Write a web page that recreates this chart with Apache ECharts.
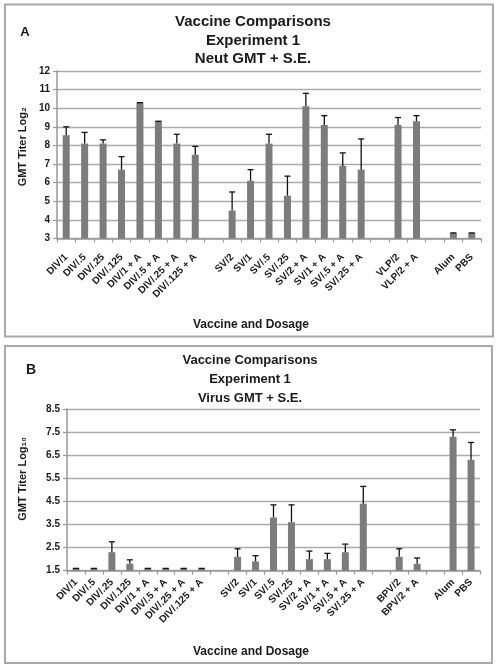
<!DOCTYPE html>
<html>
<head>
<meta charset="utf-8">
<script src="https://cdn.jsdelivr.net/npm/echarts@6/dist/echarts.min.js"></script>
<style>html,body{margin:0;padding:0;background:#fff}#c{width:498px;height:670px}</style>
</head>
<body>
<div id="c"></div>
<script>
// ---- Panel A data (Neut GMT, log2) ----
const catsA = ['DIV/1','DIV/.5','DIV/.25','DIV/.125','DIV/1 + A','DIV/.5 + A','DIV/.25 + A','DIV/.125 + A','',
  'SV/2','SV/1','SV/.5','SV/.25','SV/2 + A','SV/1 + A','SV/.5 + A','SV/.25 + A',' ',
  'VLP/2','VLP/2 + A','  ','Alum','PBS'];
const gmtA   = [8.55,8.1,8.1,6.7,10.3,9.3,8.1,7.5,null, 4.5,6.1,8.1,5.3,10.1,9.1,6.9,6.7,null, 9.1,9.3,null, 3.3,3.3];
const upperA = [9.0,8.7,8.3,7.4,10.3,9.3,8.6,7.95,null, 5.5,6.7,8.6,6.35,10.8,9.6,7.6,8.35,null, 9.5,9.6,null, 3.3,3.3];
const yTicksA = {min: 3, max: 12, interval: 1};

// ---- Panel B data (Virus GMT, log10) ----
const catsB = ['DIV/1','DIV/.5','DIV/.25','DIV/.125','DIV/1 + A','DIV/.5 + A','DIV/.25 + A','DIV/.125 + A','',
  'SV/2','SV/1','SV/.5','SV/.25','SV/2 + A','SV/1 + A','SV/.5 + A','SV/.25 + A',' ',
  'BPV/2','BPV/2 + A','  ','Alum','PBS'];
const gmtB   = [1.6,1.6,2.3,1.8,1.6,1.6,1.6,1.6,null, 2.1,1.9,3.8,3.6,2.0,2.0,2.3,4.4,null, 2.1,1.8,null, 7.3,6.3];
const upperB = [1.6,1.6,2.75,1.97,1.6,1.6,1.6,1.6,null, 2.45,2.15,4.35,4.35,2.35,2.25,2.65,5.15,null, 2.45,2.05,null, 7.6,7.05];
const yTicksB = {min: 1.5, max: 8.5, interval: 1};

const FF = '"Liberation Sans", Arial, sans-serif';
const TXT = '#1a1a1a';
const BAR = '#7c7c7c';
const GRIDC = '#acacac';
const AXC = '#999999';

function errData(vals, ups) {
  const out = [];
  vals.forEach((v, i) => { if (v != null) out.push([i, ups[i], v]); });
  return out;
}
function errRender(params, api) {
  const x = api.value(0);
  const top = api.coord([x, api.value(1)]);
  const bot = api.coord([x, api.value(2)]);
  const st = {stroke: '#111', lineWidth: 1.3};
  return {type: 'group', children: [
    {type: 'line', shape: {x1: top[0], y1: top[1], x2: bot[0], y2: bot[1]}, style: st},
    {type: 'line', shape: {x1: top[0] - 3, y1: top[1], x2: top[0] + 3, y2: top[1]}, style: st}
  ]};
}
function xAxisCfg(cats, gridIndex, padRight, gap, margin) {
  return {
    type: 'category', gridIndex, data: cats,
    name: 'Vaccine and Dosage', nameLocation: 'middle', nameGap: gap,
    nameTextStyle: {fontFamily: FF, fontWeight: 'bold', fontSize: 12, color: TXT, padding: [0, padRight, 0, 0]},
    axisLine: {lineStyle: {color: AXC, width: 1.5}},
    axisTick: {show: true, alignWithLabel: false, length: 4, lineStyle: {color: AXC, width: 1.2}},
    axisLabel: {interval: 0, rotate: 45, fontFamily: FF, fontWeight: 'bold', fontSize: 10, color: TXT, margin},
    splitLine: {show: false}
  };
}
function yAxisCfg(t, gridIndex, name, gap, padLeft) {
  return {
    type: 'value', gridIndex, min: t.min, max: t.max, interval: t.interval,
    name, nameLocation: 'middle', nameGap: gap,
    nameTextStyle: {fontFamily: FF, fontWeight: 'bold', fontSize: 11, color: TXT, padding: [0, 0, 0, padLeft]},
    axisLine: {show: true, lineStyle: {color: AXC, width: 1.5}},
    axisTick: {show: true, length: 4, lineStyle: {color: AXC, width: 1.2}},
    axisLabel: {fontFamily: FF, fontWeight: 'bold', fontSize: 10, color: TXT, margin: 7},
    splitLine: {show: true, lineStyle: {color: GRIDC, width: 1.3}}
  };
}

const chart = echarts.init(document.getElementById('c'), null, {renderer: 'canvas'});
chart.setOption({
  animation: false,
  backgroundColor: '#fff',
  grid: [
    {left: 57, top: 71, right: 17, bottom: 670 - 238.5},
    {left: 67, top: 409, right: 18, bottom: 670 - 570.7}
  ],
  xAxis: [xAxisCfg(catsA, 0, 36, 80, 17), xAxisCfg(catsB, 1, 45, 75, 10)],
  yAxis: [yAxisCfg(yTicksA, 0, 'GMT Titer Log\u2082', 26, 16), yAxisCfg(yTicksB, 1, 'GMT Titer Log\u2081\u2080', 39, 22)],
  series: [
    {type: 'bar', xAxisIndex: 0, yAxisIndex: 0, data: gmtA, barWidth: 7, itemStyle: {color: BAR}, z: 2},
    {type: 'custom', xAxisIndex: 0, yAxisIndex: 0, data: errData(gmtA, upperA), renderItem: errRender, z: 3},
    {type: 'bar', xAxisIndex: 1, yAxisIndex: 1, data: gmtB, barWidth: 7, itemStyle: {color: BAR}, z: 2},
    {type: 'custom', xAxisIndex: 1, yAxisIndex: 1, data: errData(gmtB, upperB), renderItem: errRender, z: 3}
  ],
  graphic: [
    {type: 'rect', shape: {x: 5, y: 4.5, width: 488, height: 332}, style: {fill: 'none', stroke: '#a9a9a9', lineWidth: 2}, z: 0},
    {type: 'rect', shape: {x: 5, y: 346, width: 487, height: 317}, style: {fill: 'none', stroke: '#a9a9a9', lineWidth: 2}, z: 0},
    {type: 'text', x: 253, y: 13, style: {text: 'Vaccine Comparisons\nExperiment 1\nNeut GMT + S.E.', fontFamily: FF, fontWeight: 'bold', fontSize: 15, lineHeight: 18.5, align: 'center', verticalAlign: 'top', fill: TXT}},
    {type: 'text', x: 250, y: 350.5, style: {text: 'Vaccine Comparisons\nExperiment 1\nVirus GMT + S.E.', fontFamily: FF, fontWeight: 'bold', fontSize: 13, lineHeight: 19, align: 'center', verticalAlign: 'top', fill: TXT}},
    {type: 'text', x: 25, y: 32, style: {text: 'A', fontFamily: FF, fontWeight: 'bold', fontSize: 13, align: 'center', verticalAlign: 'middle', fill: TXT}},
    {type: 'text', x: 31, y: 370, style: {text: 'B', fontFamily: FF, fontWeight: 'bold', fontSize: 14, align: 'center', verticalAlign: 'middle', fill: TXT}}
  ]
});
</script>
</body>
</html>
